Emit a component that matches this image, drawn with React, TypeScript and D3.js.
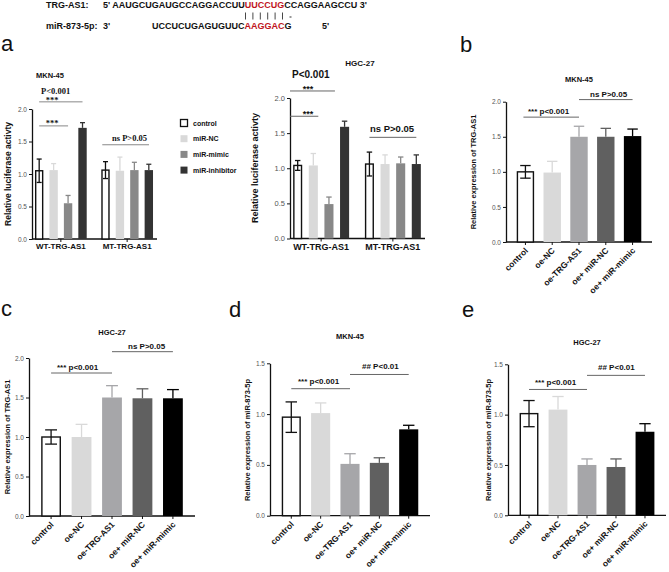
import React, { useEffect, useRef } from 'react';
import * as d3 from 'd3';

const W = 669;
const H = 572;
const SANS = '"Liberation Sans", Arial, sans-serif';
const SERIF = '"Liberation Serif", "Times New Roman", serif';

// luciferase reporter assay (panel a)
const lucSeries = ['control', 'miR-NC', 'miR-mimic', 'miR-inhibitor'];
const lucColors = ['#ffffff', '#d9d9d9', '#888888', '#333333'];
const lucConstructs = ['WT-TRG-AS1', 'MT-TRG-AS1'];
const mknLucMean = [[1.05, 1.06, 0.55, 1.71], [1.06, 1.05, 1.06, 1.06]];
const mknLucErr = [[0.18, 0.10, 0.12, 0.08], [0.13, 0.21, 0.12, 0.09]];
const hgcLucMean = [[1.04, 1.04, 0.49, 1.59], [1.06, 1.06, 1.07, 1.06]];
const hgcLucErr = [[0.07, 0.17, 0.10, 0.08], [0.17, 0.13, 0.09, 0.13]];

// qPCR groups (panels b-e)
const oeGroups = ['control', 'oe-NC', 'oe-TRG-AS1', 'oe+ miR-NC', 'oe+ miR-mimic'];
const oeColors = ['#ffffff', '#d9d9d9', '#a6a6a9', '#606060', '#000000'];
const mknTrgMean = [1.0, 0.99, 1.5, 1.5, 1.51];
const mknTrgErr = [0.09, 0.16, 0.15, 0.12, 0.1];
const hgcTrgMean = [1.0, 1.0, 1.5, 1.49, 1.49];
const hgcTrgErr = [0.09, 0.16, 0.15, 0.12, 0.11];
const mknMirMean = [0.97, 1.01, 0.51, 0.52, 0.85];
const mknMirErr = [0.15, 0.1, 0.1, 0.05, 0.04];
const hgcMirMean = [1.01, 1.05, 0.5, 0.48, 0.83];
const hgcMirErr = [0.13, 0.13, 0.06, 0.08, 0.08];

const ticks2 = [0, 0.5, 1, 1.5, 2];
const ticks15 = [0, 0.5, 1, 1.5];

type G = d3.Selection<SVGGElement, unknown, null, undefined>;

function drawAxes(g: G, x0: number, x1: number, y: d3.ScaleLinear<number, number>, ticks: number[], tickXs: number[], labelSize = 6.5) {
  const ax = g.append('g')
    .attr('transform', `translate(${x0},0)`)
    .call(d3.axisLeft(y).tickValues(ticks).tickFormat(d3.format('.1f')).tickSize(3).tickPadding(2).tickSizeOuter(0));
  ax.select('.domain').attr('stroke', '#111').attr('stroke-width', 1.3);
  ax.selectAll('.tick line').attr('stroke', '#111').attr('stroke-width', 1);
  ax.selectAll('.tick text').attr('font-family', SANS).attr('font-size', labelSize).attr('fill', '#555');
  g.append('line')
    .attr('x1', x0).attr('x2', x1).attr('y1', y(0)).attr('y2', y(0))
    .attr('stroke', '#111').attr('stroke-width', 1.3);
  tickXs.forEach(tx => {
    g.append('line').attr('x1', tx).attr('x2', tx).attr('y1', y(0)).attr('y2', y(0) + 3)
      .attr('stroke', '#111').attr('stroke-width', 1);
  });
}

function drawBar(g: G, cx: number, bw: number, y: d3.ScaleLinear<number, number>, mean: number, err: number, color: string) {
  const open = color === '#ffffff';
  g.append('rect')
    .attr('x', cx - bw / 2 + (open ? 0.7 : 0))
    .attr('y', y(mean))
    .attr('width', bw - (open ? 1.4 : 0))
    .attr('height', y(0) - y(mean))
    .attr('fill', color)
    .attr('stroke', open ? '#111' : 'none')
    .attr('stroke-width', open ? 1.4 : 0);
  const ec = open ? '#111' : color;
  const cap = bw * 0.3;
  const lo = open ? mean - err : mean;
  g.append('line').attr('x1', cx).attr('x2', cx).attr('y1', y(lo)).attr('y2', y(mean + err))
    .attr('stroke', ec).attr('stroke-width', 1.3);
  g.append('line').attr('x1', cx - cap).attr('x2', cx + cap).attr('y1', y(mean + err)).attr('y2', y(mean + err))
    .attr('stroke', ec).attr('stroke-width', 1.3);
  if (open) {
    g.append('line').attr('x1', cx - cap).attr('x2', cx + cap).attr('y1', y(lo)).attr('y2', y(lo))
      .attr('stroke', ec).attr('stroke-width', 1.3);
  }
}

function bracket(g: G, xa: number, xb: number, yv: number, color = '#666') {
  g.append('line').attr('x1', xa).attr('x2', xb).attr('y1', yv).attr('y2', yv)
    .attr('stroke', color).attr('stroke-width', 1);
}

function label(g: G, x: number, y: number, text: string, size: number, opts: { anchor?: string; weight?: string; family?: string; fill?: string; rotate?: number } = {}) {
  const t = g.append('text')
    .attr('x', opts.rotate ? 0 : x)
    .attr('y', opts.rotate ? 0 : y)
    .attr('font-family', opts.family || SANS)
    .attr('font-size', size)
    .attr('font-weight', opts.weight || 'bold')
    .attr('fill', opts.fill || '#111')
    .attr('text-anchor', opts.anchor || 'start')
    .text(text);
  if (opts.rotate) t.attr('transform', `translate(${x},${y}) rotate(${opts.rotate})`);
  return t;
}

interface LucPanel {
  x0: number; x1: number; y0: number; y2: number;
  mean: number[][]; err: number[][]; tickSize: number;
}

function drawLuc(g: G, p: LucPanel) {
  const y = d3.scaleLinear().domain([0, 2]).range([p.y0, p.y2]);
  const gx = d3.scaleBand().domain(lucConstructs).range([p.x0 + 1, p.x1 - 2]).paddingInner(0.22).paddingOuter(0.03);
  const sx = d3.scaleBand().domain(lucSeries).range([0, gx.bandwidth()]).paddingInner(0.42);
  drawAxes(g, p.x0, p.x1, y, ticks2, lucConstructs.map(c => gx(c)! + gx.bandwidth() / 2), p.tickSize);
  lucConstructs.forEach((c, ci) => {
    lucSeries.forEach((s, si) => {
      const cx = gx(c)! + sx(s)! + sx.bandwidth() / 2;
      drawBar(g, cx, sx.bandwidth(), y, p.mean[ci][si], p.err[ci][si], lucColors[si]);
    });
  });
  return { y, gx, sx };
}

interface OePanel {
  x0: number; x1: number; y0: number; yMax: number; yMaxPx: number; ticks: number[];
  mean: number[]; err: number[];
}

function drawOe(g: G, p: OePanel) {
  const y = d3.scaleLinear().domain([0, p.yMax]).range([p.y0, p.yMaxPx]);
  const x = d3.scaleBand().domain(oeGroups).range([p.x0, p.x1]).paddingInner(0.35).paddingOuter(0.4);
  const cx = (gname: string) => x(gname)! + x.bandwidth() / 2;
  drawAxes(g, p.x0, p.x1, y, p.ticks, oeGroups.map(cx), 6.5);
  oeGroups.forEach((gname, i) => drawBar(g, cx(gname), x.bandwidth(), y, p.mean[i], p.err[i], oeColors[i]));
  oeGroups.forEach(gname => {
    label(g, 0, 0, gname, 8.5).attr('text-anchor', 'end').attr('dy', '0.7em')
      .attr('transform', `translate(${cx(gname) - 1},${p.y0 + 5}) rotate(-45)`);
  });
  return { y, cx };
}

export default function App() {
  const ref = useRef<SVGSVGElement>(null);

  useEffect(() => {
    if (!ref.current) return;
    const svg = d3.select(ref.current);
    svg.selectAll('*').remove();
    const root = svg.append('g') as G;

    // binding site sequences
    label(root, 46, 8, 'TRG-AS1:', 9);
    const s1 = label(root, 103, 8, '', 9);
    s1.append('tspan').text("5' AAUGCUGAUGCCAGGACCUU");
    s1.append('tspan').attr('fill', '#c0141c').text('UUCCUG');
    s1.append('tspan').text("CCAGGAAGCCU 3'");
    // base pairing marks
    d3.range(6).forEach(i => {
      root.append('line').attr('x1', 245.5 + i * 7.4).attr('x2', 245.5 + i * 7.4).attr('y1', 12.5).attr('y2', 19.5)
        .attr('stroke', '#333').attr('stroke-width', 0.9);
    });
    root.append('rect').attr('x', 289.5).attr('y', 16.5).attr('width', 2).attr('height', 1).attr('fill', '#333');
    label(root, 46, 29, 'miR-873-5p:', 9);
    label(root, 103, 29, "3'", 9);
    const s2 = label(root, 152, 29, '', 9);
    s2.append('tspan').text('UCCUCUGAGUGUUC');
    s2.append('tspan').attr('fill', '#c0141c').text('AAGGAC');
    s2.append('tspan').text('G');
    label(root, 322, 29, "5'", 9);

    // panel letters
    [['a', 1, 51], ['b', 460, 52], ['c', 1, 316], ['d', 229, 317], ['e', 462, 317]].forEach(([t, x, yy]) =>
      label(root, x as number, yy as number, t as string, 22, { weight: 'normal' }));

    // a: MKN-45 luciferase
    const aL = drawLuc(root, { x0: 32, x1: 157, y0: 239, y2: 109, mean: mknLucMean, err: mknLucErr, tickSize: 6.5 });
    label(root, 50, 78, 'MKN-45', 7.5, { anchor: 'middle' });
    label(root, 11, 174, 'Relative  luciferase activty', 8.5, { anchor: 'middle', rotate: -90 });
    lucConstructs.forEach(c => label(root, aL.gx(c)! + aL.gx.bandwidth() / 2, 249, c, 8, { anchor: 'middle' }));
    const wtA = aL.gx('WT-TRG-AS1')!;
    const mtA = aL.gx('MT-TRG-AS1')!;
    const cA = (c: number, s: string) => c + aL.sx(s)! + aL.sx.bandwidth() / 2;
    bracket(root, cA(wtA, 'control'), cA(wtA, 'miR-inhibitor'), aL.y(2.11), '#888');
    bracket(root, cA(wtA, 'control'), cA(wtA, 'miR-mimic'), aL.y(1.74), '#888');
    bracket(root, mtA + 1, mtA + aL.gx.bandwidth() - 4, aL.y(1.45), '#888');
    label(root, 41, 94, 'P<0.001', 8.5, { family: SERIF });
    label(root, 52, 103, '***', 8.5, { family: SERIF, anchor: 'middle' });
    label(root, 52, 126, '***', 8.5, { family: SERIF, anchor: 'middle' });
    label(root, 112, 141, 'ns P>0.05', 8.5, { family: SERIF });

    // legend
    lucSeries.forEach((s, i) => {
      const ly = 123 + i * 15.7;
      root.append('rect').attr('x', 180.5).attr('y', ly - 3.5).attr('width', 7).attr('height', 7)
        .attr('fill', lucColors[i]).attr('stroke', i === 0 ? '#111' : 'none').attr('stroke-width', 1.3);
      label(root, 193, ly + 2.5, s, 7);
    });

    // a: HGC-27 luciferase
    const aR = drawLuc(root, { x0: 290, x1: 425, y0: 238.5, y2: 98, mean: hgcLucMean, err: hgcLucErr, tickSize: 7.5 });
    label(root, 360, 66, 'HGC-27', 8, { anchor: 'middle' });
    label(root, 258, 168, 'Relative  luciferase activty', 9, { anchor: 'middle', rotate: -90 });
    lucConstructs.forEach(c => label(root, aR.gx(c)! + aR.gx.bandwidth() / 2, 250, c, 9, { anchor: 'middle' }));
    const wtR = aR.gx('WT-TRG-AS1')!;
    const mtR = aR.gx('MT-TRG-AS1')!;
    const cR = (c: number, s: string) => c + aR.sx(s)! + aR.sx.bandwidth() / 2;
    bracket(root, 290, cR(wtR, 'miR-mimic') + 6, aR.y(2.1));
    bracket(root, 290, cR(wtR, 'miR-NC') + 5, aR.y(1.74));
    bracket(root, cR(mtR, 'control'), cR(mtR, 'miR-inhibitor'), aR.y(1.44));
    label(root, 292, 78, 'P<0.001', 10);
    label(root, 308, 92, '***', 9, { anchor: 'middle' });
    label(root, 308, 117, '***', 9, { anchor: 'middle' });
    label(root, 370, 132, 'ns P>0.05', 9.5);

    // b: MKN-45 TRG-AS1 expression
    const b = drawOe(root, { x0: 506, x1: 652, y0: 242, yMax: 2, yMaxPx: 101.7, ticks: ticks2, mean: mknTrgMean, err: mknTrgErr });
    label(root, 579, 82, 'MKN-45', 7.5, { anchor: 'middle' });
    label(root, 476, 172, 'Relative expression of  TRG-AS1', 7.5, { anchor: 'middle', rotate: -90 });
    bracket(root, b.cx('control') - 2, b.cx('oe-TRG-AS1'), b.y(1.78));
    bracket(root, b.cx('oe-TRG-AS1'), b.cx('oe+ miR-mimic'), b.y(2.03));
    label(root, 528, 114, '***  p<0.001', 8);
    label(root, 590, 97, 'ns P>0.05', 8);

    // c: HGC-27 TRG-AS1 expression
    const c = drawOe(root, { x0: 29, x1: 195, y0: 516, yMax: 2, yMaxPx: 358, ticks: ticks2, mean: hgcTrgMean, err: hgcTrgErr });
    label(root, 112, 335, 'HGC-27', 7.5, { anchor: 'middle' });
    label(root, 10, 437, 'Relative expression of  TRG-AS1', 7.5, { anchor: 'middle', rotate: -90 });
    bracket(root, c.cx('control'), c.cx('oe-TRG-AS1'), c.y(1.81));
    bracket(root, c.cx('oe-TRG-AS1'), c.cx('oe+ miR-mimic'), c.y(2.08));
    label(root, 57, 370, '***  p<0.001', 8);
    label(root, 128, 349, 'ns P>0.05', 8);

    // d: MKN-45 miR-873-5p expression
    const d = drawOe(root, { x0: 270, x1: 430, y0: 515.7, yMax: 1.5, yMaxPx: 363.3, ticks: ticks15, mean: mknMirMean, err: mknMirErr });
    label(root, 350, 339, 'MKN-45', 7.5, { anchor: 'middle' });
    label(root, 250, 440, 'Relative expression of  miR-873-5p', 7.5, { anchor: 'middle', rotate: -90 });
    bracket(root, d.cx('control'), d.cx('oe-TRG-AS1'), d.y(1.25));
    bracket(root, d.cx('oe-TRG-AS1'), d.cx('oe+ miR-mimic'), d.y(1.39));
    label(root, 298, 384, '***  p<0.001', 8);
    label(root, 362, 369, '## P<0.01', 8);

    // e: HGC-27 miR-873-5p expression
    const e = drawOe(root, { x0: 508, x1: 666, y0: 515.3, yMax: 1.5, yMaxPx: 364.3, ticks: ticks15, mean: hgcMirMean, err: hgcMirErr });
    label(root, 587, 345, 'HGC-27', 7.5, { anchor: 'middle' });
    label(root, 491, 440, 'Relative expression of  miR-873-5p', 7.5, { anchor: 'middle', rotate: -90 });
    bracket(root, e.cx('control'), e.cx('oe-TRG-AS1'), e.y(1.25));
    bracket(root, e.cx('oe-TRG-AS1'), e.cx('oe+ miR-mimic'), e.y(1.39));
    label(root, 535, 385, '***  p<0.001', 8);
    label(root, 598, 370, '## P<0.01', 8);
  }, []);

  return (
    <svg ref={ref} width={W} height={H} viewBox={`0 0 ${W} ${H}`}
      style={{ position: 'absolute', left: 0, top: 0, background: '#fff' }} />
  );
}
